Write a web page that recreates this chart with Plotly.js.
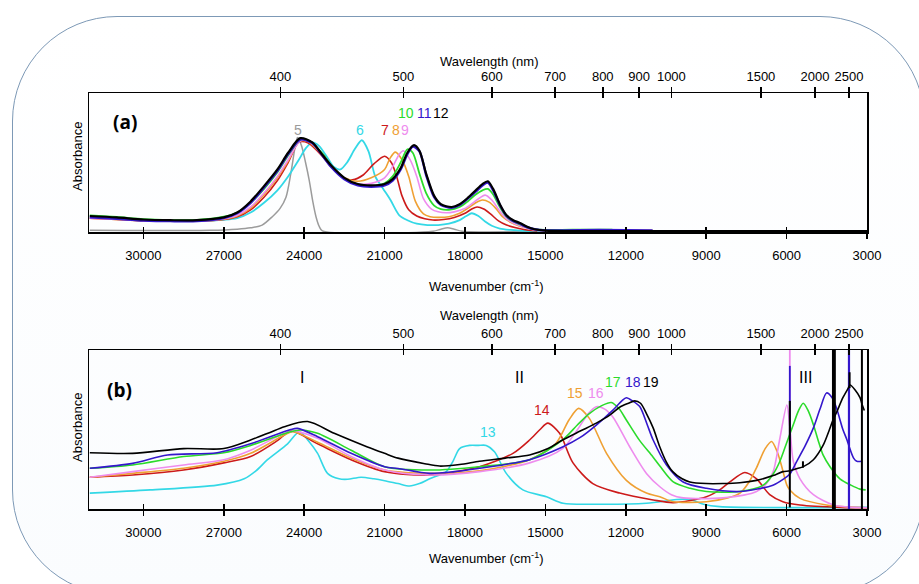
<!DOCTYPE html>
<html><head><meta charset="utf-8">
<script src="https://cdn.plot.ly/plotly-3.0.1.min.js"></script>
<style>
html,body{margin:0;padding:0;background:#fff;width:919px;height:584px;overflow:hidden;}
#frame{position:absolute;left:12px;top:16px;width:911px;height:577px;border:1.3px solid #7d99b6;border-radius:105px;background:linear-gradient(#ffffff,#fafcfe);}
#plot{position:absolute;left:0;top:0;width:919px;height:584px;}
</style></head><body>
<div id="frame"></div><div id="plot"></div>
<script>
// ---------- DATA (wavenumber cm-1, relative absorbance) ----------
const bottomTicks = [30000, 27000, 24000, 21000, 18000, 15000, 12000, 9000, 6000, 3000];
const wavelengthLabels = ['400','500','600','700','800','900','1000','1500','2000','2500'];
const wavelengthTickWn = [24890, 20300, 17000, 14640, 12860, 11500, 10300, 6960, 4940, 3670];

// Panel (a)
const s5 = [[32000,0.012],[27500,0.012],[26500,0.02],[26000,0.03],[25570,0.05],[25190,0.11],[24900,0.17],[24680,0.25],[24500,0.42],[24350,0.60],[24250,0.68],[24100,0.62],[23950,0.50],[23810,0.37],[23680,0.22],[23560,0.11],[23440,0.04],[23320,0.008],[19200,0.005],[18900,0.02],[18650,0.03],[18400,0.02],[18100,0.005],[15000,0.005]];
const s6 = [[32000,0.105],[31000,0.095],[30000,0.085],[29000,0.08],[28000,0.08],[27000,0.088],[26500,0.10],[26000,0.14],[25500,0.21],[25000,0.30],[24600,0.40],[24200,0.52],[23950,0.60],[23700,0.645],[23450,0.62],[23150,0.54],[22900,0.47],[22650,0.45],[22400,0.50],[22100,0.60],[21850,0.66],[21600,0.58],[21350,0.40],[21050,0.31],[20780,0.23],[20450,0.12],[20150,0.085],[19800,0.06],[19400,0.05],[19000,0.05],[18600,0.06],[18200,0.085],[17950,0.115],[17750,0.135],[17500,0.115],[17250,0.075],[17000,0.045],[16700,0.025],[16300,0.015],[15800,0.008],[15000,0.005]];
const s7 = [[32000,0.10],[31000,0.09],[30000,0.082],[29000,0.078],[28000,0.078],[27000,0.09],[26500,0.11],[26000,0.16],[25500,0.25],[25000,0.37],[24600,0.50],[24200,0.645],[23850,0.64],[23300,0.54],[23000,0.47],[22500,0.385],[22200,0.375],[21800,0.41],[21400,0.49],[21000,0.545],[20750,0.50],[20550,0.40],[20350,0.26],[20100,0.16],[19800,0.115],[19500,0.095],[19200,0.086],[18800,0.09],[18400,0.105],[18000,0.135],[17750,0.165],[17550,0.18],[17300,0.165],[17050,0.13],[16750,0.08],[16450,0.05],[16100,0.03],[15700,0.015],[15300,0.008]];
const s8 = [[32000,0.10],[31000,0.09],[30000,0.082],[29000,0.078],[28000,0.078],[27000,0.092],[26500,0.115],[26000,0.17],[25500,0.27],[25000,0.39],[24600,0.51],[24200,0.65],[23850,0.65],[23300,0.55],[23000,0.48],[22500,0.39],[22000,0.365],[21500,0.39],[21000,0.45],[20800,0.53],[20600,0.575],[20350,0.52],[20100,0.40],[19850,0.22],[19550,0.13],[19300,0.11],[19000,0.105],[18600,0.11],[18200,0.135],[17900,0.17],[17600,0.21],[17350,0.23],[17100,0.215],[16850,0.17],[16600,0.11],[16300,0.07],[16000,0.045],[15700,0.03],[15400,0.015],[15000,0.01],[13000,0.012],[11000,0.012]];
const s9 = [[32000,0.10],[31000,0.092],[30000,0.082],[29000,0.078],[28000,0.078],[27000,0.095],[26500,0.12],[26000,0.18],[25500,0.28],[25000,0.40],[24600,0.52],[24150,0.655],[23850,0.655],[23300,0.555],[23000,0.48],[22500,0.385],[22000,0.345],[21500,0.35],[21000,0.39],[20700,0.47],[20450,0.56],[20300,0.585],[20050,0.52],[19800,0.40],[19550,0.24],[19250,0.165],[19000,0.145],[18700,0.138],[18400,0.145],[18000,0.17],[17700,0.21],[17450,0.245],[17250,0.265],[17000,0.23],[16700,0.15],[16450,0.095],[16200,0.065],[15950,0.045],[15700,0.03],[15400,0.015],[15000,0.008]];
const s10 = [[32000,0.12],[31000,0.108],[30000,0.092],[29000,0.086],[28000,0.087],[27000,0.11],[26500,0.14],[26000,0.21],[25500,0.31],[25000,0.43],[24600,0.55],[24150,0.665],[23800,0.655],[23300,0.56],[23000,0.48],[22500,0.385],[22000,0.34],[21500,0.33],[21000,0.35],[20700,0.40],[20400,0.50],[20150,0.595],[19950,0.57],[19700,0.42],[19450,0.28],[19150,0.19],[18900,0.165],[18600,0.16],[18200,0.18],[17900,0.22],[17600,0.27],[17350,0.30],[17150,0.31],[16950,0.27],[16700,0.18],[16450,0.11],[16200,0.075],[15950,0.055],[15700,0.035],[15400,0.02],[15000,0.015],[14000,0.017],[12500,0.017]];
const s11 = [[32000,0.105],[31000,0.095],[30000,0.083],[29000,0.078],[28000,0.078],[27000,0.10],[26500,0.135],[26000,0.21],[25500,0.32],[25000,0.44],[24600,0.56],[24150,0.665],[23700,0.64],[23300,0.545],[23000,0.47],[22500,0.38],[22000,0.335],[21500,0.325],[21000,0.335],[20700,0.37],[20400,0.45],[20150,0.56],[19950,0.615],[19700,0.58],[19450,0.41],[19150,0.25],[18900,0.195],[18500,0.175],[18200,0.195],[17900,0.24],[17600,0.29],[17350,0.335],[17150,0.355],[16950,0.30],[16700,0.195],[16450,0.115],[16200,0.08],[15950,0.06],[15700,0.035],[15400,0.02],[15000,0.012],[13000,0.014],[11000,0.012]];
const s12 = [[32000,0.115],[31000,0.105],[30000,0.09],[29000,0.085],[28000,0.085],[27000,0.105],[26500,0.14],[26000,0.22],[25500,0.33],[25000,0.45],[24600,0.57],[24150,0.675],[23700,0.645],[23300,0.55],[23000,0.48],[22500,0.39],[22000,0.345],[21500,0.335],[21000,0.345],[20700,0.38],[20400,0.46],[20150,0.57],[19900,0.625],[19700,0.585],[19450,0.42],[19150,0.26],[18900,0.20],[18500,0.18],[18200,0.20],[17900,0.245],[17600,0.30],[17350,0.345],[17150,0.365],[16950,0.31],[16700,0.20],[16450,0.12],[16200,0.085],[15950,0.065],[15700,0.04],[15400,0.02],[15000,0.01],[11000,0.006],[3000,0.006]];

// Panel (b) smooth spectra
const s13 = [[32000,0.10],[29750,0.12],[27250,0.15],[26240,0.19],[25800,0.24],[25370,0.31],[24620,0.41],[24180,0.486],[23800,0.42],[23500,0.35],[23130,0.224],[22700,0.19],[22380,0.187],[21880,0.20],[21400,0.19],[21000,0.178],[20500,0.16],[20070,0.145],[19700,0.16],[19320,0.19],[18700,0.235],[18450,0.30],[18200,0.38],[17830,0.40],[17500,0.40],[17210,0.40],[16900,0.36],[16460,0.224],[15840,0.12],[14960,0.077],[14340,0.036],[13100,0.03],[11230,0.036],[10500,0.05],[10100,0.06],[9600,0.06],[9100,0.03],[8500,0.015],[3000,0.01]];
const s14 = [[32000,0.20],[30400,0.214],[28500,0.245],[27000,0.29],[26000,0.33],[25000,0.43],[24500,0.49],[23500,0.41],[22250,0.31],[21000,0.235],[19320,0.214],[17460,0.266],[16210,0.35],[15590,0.434],[15200,0.50],[14910,0.54],[14470,0.476],[13970,0.29],[13230,0.16],[12230,0.10],[10980,0.057],[10230,0.04],[8990,0.077],[8500,0.12],[8120,0.17],[7560,0.23],[7120,0.19],[6630,0.09],[6140,0.046],[5500,0.025],[4000,0.01],[3000,0.008]];
const s15 = [[32000,0.20],[30400,0.224],[28500,0.256],[27000,0.30],[26000,0.35],[24740,0.465],[24420,0.486],[23500,0.42],[22250,0.32],[21000,0.245],[19320,0.224],[17460,0.24],[15590,0.31],[14620,0.41],[14120,0.56],[13760,0.633],[13360,0.57],[12720,0.35],[11980,0.18],[11230,0.10],[10730,0.077],[10230,0.046],[8990,0.046],[8200,0.07],[7740,0.10],[7400,0.17],[7120,0.26],[6800,0.38],[6560,0.425],[6350,0.36],[6180,0.266],[5990,0.15],[5880,0.12],[5500,0.067],[4510,0.025],[3500,0.01],[3000,0.008]];
const s16 = [[32000,0.20],[30400,0.235],[28500,0.277],[27000,0.31],[26000,0.37],[24740,0.476],[24360,0.49],[23500,0.445],[22250,0.33],[21000,0.245],[19320,0.214],[17460,0.235],[15590,0.29],[14360,0.38],[13800,0.50],[13400,0.60],[13100,0.643],[12800,0.63],[12490,0.58],[11850,0.39],[11230,0.224],[10730,0.14],[10300,0.09],[9860,0.07],[8380,0.07],[7120,0.11],[6750,0.16],[6500,0.235],[6250,0.445],[5990,0.654],[5880,0.52],[5750,0.30],[5500,0.19],[5000,0.09],[4250,0.025],[3500,0.01],[3000,0.008]];
const s17 = [[32000,0.256],[30400,0.277],[28500,0.33],[27000,0.354],[26000,0.40],[24500,0.486],[24120,0.497],[23500,0.476],[22250,0.37],[21000,0.266],[19320,0.245],[17460,0.266],[15590,0.31],[14360,0.434],[13800,0.53],[13360,0.60],[12900,0.65],[12540,0.67],[12250,0.63],[11980,0.56],[11480,0.43],[11000,0.33],[10730,0.27],[10230,0.17],[9600,0.13],[8990,0.11],[7750,0.11],[6870,0.15],[6500,0.22],[6250,0.30],[5990,0.42],[5750,0.53],[5550,0.62],[5380,0.665],[5200,0.62],[5000,0.53],[4800,0.42],[4640,0.34],[4380,0.266],[4010,0.19],[3600,0.15],[3260,0.125],[3050,0.12]];
const s18 = [[32000,0.256],[30400,0.287],[29100,0.34],[27250,0.354],[26000,0.41],[24500,0.50],[24250,0.507],[23500,0.455],[22250,0.35],[21000,0.266],[20500,0.255],[19320,0.224],[18400,0.235],[17460,0.256],[16500,0.28],[15590,0.31],[14360,0.39],[13700,0.45],[13100,0.528],[12490,0.62],[12150,0.68],[11980,0.70],[11750,0.68],[11480,0.644],[11200,0.53],[10980,0.434],[10480,0.277],[9860,0.17],[8990,0.13],[7750,0.11],[6510,0.15],[6100,0.19],[5880,0.22],[5620,0.30],[5300,0.40],[5000,0.51],[4750,0.63],[4510,0.73],[4300,0.70],[4130,0.63],[3900,0.50],[3760,0.44],[3680,0.40],[3500,0.32],[3380,0.30],[3200,0.30]];
const s19 = [[32000,0.354],[30400,0.35],[28500,0.38],[27000,0.38],[26000,0.434],[25300,0.48],[24740,0.518],[23870,0.55],[22880,0.476],[21640,0.39],[21000,0.35],[20500,0.32],[19500,0.285],[18950,0.27],[18200,0.28],[17460,0.30],[16500,0.32],[15590,0.34],[14900,0.38],[14360,0.434],[13700,0.49],[13100,0.54],[12600,0.59],[12230,0.64],[11900,0.665],[11670,0.68],[11450,0.665],[11230,0.60],[10980,0.51],[10730,0.39],[10500,0.30],[10250,0.235],[9900,0.19],[9610,0.17],[9000,0.16],[8380,0.16],[7750,0.165],[7120,0.18],[6500,0.21],[6140,0.235],[5880,0.24],[5600,0.255],[5390,0.265],[5000,0.31],[4640,0.40],[4400,0.50],[4270,0.56],[4130,0.61],[3900,0.70],[3700,0.76],[3630,0.78],[3450,0.75],[3260,0.70],[3190,0.66],[3100,0.62]];
// Panel (b) detector-change / saturation spikes: [wavenumber, low, high]
const spikes16 = [[5880,0.52,1.0]];
const spikes18 = [[5880,0.22,0.90],[3680,0.0,1.0],[3665,0.0,1.0]];
const spikes19 = [[5880,0.01,0.68],[5390,0.26,0.30],[4270,0.0,1.0],[4235,0.0,1.0],[4200,0.0,1.0],[3650,0.76,0.86],[3190,0.0,1.0]];

const colors = {grey:'#9b9b9b', cyan:'#33d8e6', red:'#cc1a1a', orange:'#efa033', pink:'#ee8cee', green:'#2bdb2b', blue:'#3417cc', black:'#000000'};

const panelA = [
  {id:'5', d:s5, c:colors.grey, w:1.5},
  {id:'6', d:s6, c:colors.cyan, w:1.8},
  {id:'7', d:s7, c:colors.red, w:1.6},
  {id:'8', d:s8, c:colors.orange, w:1.6},
  {id:'9', d:s9, c:colors.pink, w:1.6},
  {id:'10', d:s10, c:colors.green, w:1.8},
  {id:'11', d:s11, c:colors.blue, w:2.4},
  {id:'12', d:s12, c:colors.black, w:2.2}
];
const panelB = [
  {id:'13', d:s13, c:colors.cyan, w:1.6},
  {id:'14', d:s14, c:colors.red, w:1.6},
  {id:'15', d:s15, c:colors.orange, w:1.6},
  {id:'16', d:s16, c:colors.pink, w:1.6, sp:spikes16},
  {id:'17', d:s17, c:colors.green, w:1.6},
  {id:'18', d:s18, c:colors.blue, w:1.6, sp:spikes18},
  {id:'19', d:s19, c:colors.black, w:1.6, sp:spikes19}
];

const traces = [];
function addSeries(s, xa, ya){
  traces.push({type:'scatter', mode:'lines', name:s.id, x:s.d.map(p=>p[0]), y:s.d.map(p=>p[1]), xaxis:xa, yaxis:ya,
    line:{color:s.c, width:s.w, shape:'spline', smoothing:0.8}, hoverinfo:'skip'});
  if (s.sp){
    const xs = [], ys = [];
    s.sp.forEach(k => { xs.push(k[0], k[0], null); ys.push(k[1], k[2], null); });
    traces.push({type:'scatter', mode:'lines', name:s.id+' spikes', x:xs, y:ys, xaxis:xa, yaxis:ya,
      line:{color:s.c, width:s.c==='#000000'?2:1.8}, connectgaps:false, hoverinfo:'skip'});
  }
}
panelA.forEach(s => addSeries(s, 'x', 'y'));
panelB.forEach(s => addSeries(s, 'x3', 'y2'));
// empty traces so the overlaid wavelength / tick axes are rendered
[['x2','y'],['x4','y2'],['x5','y'],['x6','y'],['x7','y2'],['x8','y2']].forEach(a =>
  traces.push({type:'scatter', mode:'lines', x:[], y:[], xaxis:a[0], yaxis:a[1], hoverinfo:'skip', showlegend:false}));

// ---------- LAYOUT ----------
const W = 919, H = 584, ML = 89, MR = 52;
const px = x => (x - ML) / (W - ML - MR);
const py = y => (H - y) / H;
const xRange = [32030, 3000];
const FONT = 'Liberation Sans, Arial, Helvetica, sans-serif';

function bottomAxis(anchor){
  return {anchor:anchor, side:'bottom', range:xRange, tickmode:'array', tickvals:bottomTicks,
    ticktext:bottomTicks.map(String), ticks:'outside', ticklen:5, tickwidth:1.5, tickcolor:'#000',
    showline:true, linewidth:1.5, linecolor:'#000', showgrid:false, zeroline:false,
    tickfont:{family:FONT, size:13, color:'#000'}, ticklabelstandoff:6, fixedrange:true};
}
function topAxis(over, anchor){
  return {overlaying:over, anchor:anchor, side:'top', range:xRange, tickmode:'array',
    tickvals:wavelengthTickWn, ticktext:wavelengthLabels, ticks:'outside', ticklen:5, tickwidth:1.5, tickcolor:'#000',
    showline:true, linewidth:1.5, linecolor:'#000', showgrid:false, zeroline:false,
    tickfont:{family:FONT, size:13, color:'#000'}, fixedrange:true};
}
function innerTicks(over, anchor, side, vals){
  return {overlaying:over, anchor:anchor, side:side, range:xRange, tickmode:'array', tickvals:vals,
    ticktext:vals.map(()=>''), ticks:'inside', ticklen:5, tickwidth:1.5, tickcolor:'#000', showticklabels:false,
    showline:false, showgrid:false, zeroline:false, fixedrange:true};
}
function yAx(dom){
  return {domain:dom, range:[0,1], showline:true, mirror:true, linewidth:1.5, linecolor:'#000',
    ticks:'', showticklabels:false, showgrid:false, zeroline:false, fixedrange:true};
}

const ann = [];
function txt(t, x, y, size, color, extra){
  ann.push(Object.assign({text:t, xref:'paper', yref:'paper', x:px(x), y:py(y), xanchor:'center', yanchor:'middle',
    showarrow:false, font:{family:FONT, size:size, color:color}}, extra||{}));
}
// axis titles
txt('Wavelength (nm)', 489, 62, 13, '#000');
txt('Wavenumber (cm<sup>-1</sup>)', 487, 286, 13, '#000');
txt('Wavelength (nm)', 489, 316, 13, '#000');
txt('Wavenumber (cm<sup>-1</sup>)', 487, 558, 13, '#000');
txt('Absorbance', 77, 157, 13, '#000', {textangle:-90});
txt('Absorbance', 77, 428, 13, '#000', {textangle:-90});
// panel letters
ann.push({text:'<b>(a)</b>', xref:'paper', yref:'paper', x:px(125), y:py(122), showarrow:false, xanchor:'center', yanchor:'middle', font:{family:'Open Sans, Noto Sans, sans-serif', size:19, color:'#000'}});
ann.push({text:'<b>(b)</b>', xref:'paper', yref:'paper', x:px(119), y:py(390), showarrow:false, xanchor:'center', yanchor:'middle', font:{family:'Open Sans, Noto Sans, sans-serif', size:19, color:'#000'}});
// series labels (a)
txt('5', 298, 130, 14, colors.grey);
txt('6', 360, 130, 14, colors.cyan);
txt('7', 385, 130, 14, colors.red);
txt('8', 395.5, 130, 14, colors.orange);
txt('9', 404.5, 130, 14, colors.pink);
txt('10', 406, 113, 14, colors.green);
txt('11', 424, 113, 14, colors.blue);
txt('12', 441, 113, 14, colors.black);
// region labels and series labels (b)
txt('I', 302, 377, 16, '#000');
txt('II', 519, 377, 16, '#000');
txt('III', 805, 377, 16, '#000');
txt('13', 488, 432, 14, colors.cyan);
txt('14', 542, 410, 14, colors.red);
txt('15', 575, 393, 14, colors.orange);
txt('16', 596, 393, 14, colors.pink);
txt('17', 613, 382, 14, colors.green);
txt('18', 633, 382, 14, colors.blue);
txt('19', 651, 382, 14, colors.black);

const layout = {
  width:W, height:H, margin:{l:ML, r:MR, t:0, b:0, pad:0},
  paper_bgcolor:'rgba(0,0,0,0)', plot_bgcolor:'rgba(0,0,0,0)', showlegend:false,
  font:{family:FONT, size:13, color:'#000'},
  xaxis: bottomAxis('y'),
  xaxis2: topAxis('x','y'),
  xaxis3: bottomAxis('y2'),
  xaxis4: topAxis('x3','y2'),
  xaxis5: innerTicks('x','y','bottom', bottomTicks),
  xaxis6: innerTicks('x','y','top', wavelengthTickWn),
  xaxis7: innerTicks('x3','y2','bottom', bottomTicks),
  xaxis8: innerTicks('x3','y2','top', wavelengthTickWn),
  yaxis: yAx([1-232/H, 1-93/H]),
  yaxis2: yAx([1-509/H, 1-350/H]),
  annotations: ann
};
Plotly.newPlot('plot', traces, layout, {displayModeBar:false, staticPlot:true});
</script></body></html>
